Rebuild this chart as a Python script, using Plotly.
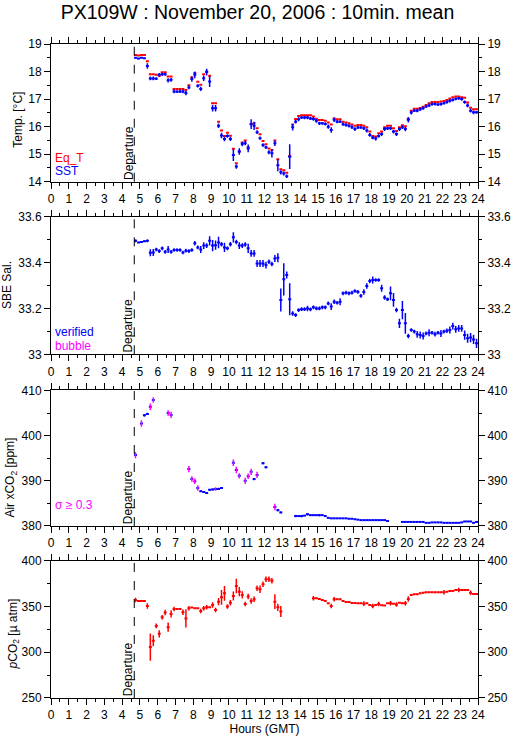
import numpy as np
import plotly.graph_objects as go

RED = "#ff0000"
BLUE = "#0000ff"
MAGENTA = "#ff00ff"
FONT = "Liberation Sans, Arial, Helvetica, sans-serif"

departure = 4.68            # hour of departure (GMT)
first_mean = 4.75           # centre of the first 10-min mean
hours = first_mean + np.arange(116) / 6.0

# ---- temperature [degC] ----
eq_t = [18.6, 18.58, 18.6, 18.6, 18.37, 17.9, 17.9, 17.88, 17.85, 17.97, 17.97, 17.82,
        17.82, 17.37, 17.37, 17.37, 17.37, 17.33, 17.5, 17.78, 17.95, 17.63, 17.52, 17.9,
        18.0, 17.85, 16.85, 16.85, 16.18, 15.86, 15.66, 15.78, 15.67, 15.2, 14.67, 15.1,
        15.42, 15.5, 15.25, 16.1, 16.12, 15.94, 15.72, 15.48, 15.36, 15.21, 15.15, 15.5,
        14.82, 14.45, 14.42, 14.33, 14.93, 16.08, 16.28, 16.39, 16.41, 16.41, 16.41, 16.41,
        16.37, 16.29, 16.24, 16.24, 16.21, 16.15, 16.08, 16.3, 16.27, 16.27, 16.18, 16.15,
        16.12, 16.08, 16.03, 16.06, 16.06, 16.03, 15.98, 15.82, 15.66, 15.64, 15.76, 15.82,
        15.98, 16.03, 16.03, 15.94, 15.84, 15.98, 16.05, 16.01, 16.28, 16.58, 16.65, 16.65,
        16.68, 16.72, 16.79, 16.85, 16.89, 16.89, 16.89, 16.91, 16.93, 16.97, 17.02, 17.07,
        17.09, 17.09, 17.07, 17.05, 16.88, 16.69, 16.63, 16.63]
sst = [18.5, 18.47, 18.5, 18.48, 18.2, 17.75, 17.75, 17.74, 17.88, 17.9, 17.9, 17.68,
       17.7, 17.28, 17.27, 17.28, 17.28, 17.22, 17.42, 17.73, 17.88, 17.48, 17.37, 17.76,
       17.98, 17.64, 16.67, 16.67, 16.03, 15.68, 15.55, 15.66, 15.55, 14.97, 14.55, 15.1,
       15.37, 15.4, 15.21, 16.09, 16.03, 15.8, 15.58, 15.33, 15.25, 15.07, 15.03, 15.4,
       14.6, 14.34, 14.3, 14.2, 14.91, 15.98, 16.18, 16.27, 16.33, 16.33, 16.33, 16.3,
       16.28, 16.21, 16.12, 16.12, 16.1, 16.0, 15.88, 16.25, 16.18, 16.18, 16.09, 16.06,
       16.03, 15.98, 15.91, 15.97, 15.97, 15.94, 15.86, 15.7, 15.6, 15.57, 15.66, 15.73,
       15.91, 15.94, 15.94, 15.82, 15.73, 15.91, 15.98, 15.91, 16.25, 16.51, 16.58, 16.58,
       16.63, 16.67, 16.73, 16.77, 16.82, 16.82, 16.8, 16.82, 16.85, 16.89, 16.94, 16.97,
       17.01, 17.03, 17.0, 16.89, 16.77, 16.58, 16.52, 16.52]
sst_sd = [0.03, 0.02, 0.03, 0.02, 0.1, 0.07, 0.07, 0.05, 0.07, 0.06, 0.05, 0.08,
          0.07, 0.07, 0.05, 0.06, 0.07, 0.08, 0.06, 0.1, 0.12, 0.06, 0.08, 0.1,
          0.12, 0.2, 0.12, 0.12, 0.08, 0.1, 0.08, 0.06, 0.07, 0.22, 0.08, 0.12,
          0.08, 0.08, 0.14, 0.18, 0.15, 0.07, 0.06, 0.07, 0.06, 0.07, 0.15, 0.1,
          0.22, 0.08, 0.07, 0.06, 0.45, 0.12, 0.07, 0.07, 0.05, 0.06, 0.06, 0.06,
          0.07, 0.07, 0.06, 0.05, 0.06, 0.08, 0.1, 0.08, 0.06, 0.05, 0.06, 0.06,
          0.06, 0.07, 0.07, 0.06, 0.05, 0.06, 0.07, 0.07, 0.06, 0.07, 0.06, 0.07,
          0.07, 0.06, 0.06, 0.07, 0.07, 0.07, 0.07, 0.08, 0.1, 0.07, 0.05, 0.06,
          0.06, 0.06, 0.05, 0.06, 0.06, 0.05, 0.05, 0.06, 0.05, 0.06, 0.06, 0.06,
          0.05, 0.05, 0.06, 0.06, 0.07, 0.07, 0.07, 0.05]

# ---- SBE salinity ----
sal = [33.495, 33.488, 33.49, 33.493, 33.495, 33.443, 33.444, 33.457, 33.45, 33.462, 33.447, 33.457,
       33.447, 33.455, 33.455, 33.455, 33.444, 33.452, 33.45, 33.455, 33.484, 33.466, 33.457, 33.474,
       33.474, 33.495, 33.474, 33.476, 33.488, 33.48, 33.466, 33.462, 33.48, 33.51, 33.49, 33.474,
       33.474, 33.479, 33.462, 33.44, 33.44, 33.396, 33.396, 33.396, 33.389, 33.404, 33.394, 33.418,
       33.421, 33.237, 33.327, 33.346, 33.24, 33.178, 33.171, 33.193, 33.197, 33.197, 33.2, 33.196,
       33.205, 33.2, 33.2, 33.205, 33.205, 33.222, 33.208, 33.229, 33.225, 33.229, 33.266, 33.269,
       33.266, 33.269, 33.276, 33.272, 33.255, 33.272, 33.298, 33.32, 33.324, 33.324, 33.324, 33.288,
       33.248, 33.24, 33.266, 33.237, 33.193, 33.135, 33.193, 33.135, 33.08, 33.106, 33.099, 33.087,
       33.084, 33.08, 33.091, 33.094, 33.094, 33.088, 33.094, 33.091, 33.099, 33.103, 33.106, 33.123,
       33.109, 33.113, 33.113, 33.084, 33.07, 33.073, 33.065, 33.048]
sal_sd = [0.006, 0.003, 0.003, 0.003, 0.006, 0.015, 0.015, 0.008, 0.008, 0.008, 0.008, 0.015,
          0.008, 0.008, 0.008, 0.008, 0.008, 0.008, 0.008, 0.008, 0.01, 0.008, 0.015, 0.015,
          0.01, 0.02, 0.025, 0.02, 0.025, 0.01, 0.02, 0.008, 0.01, 0.022, 0.01, 0.015,
          0.01, 0.01, 0.02, 0.015, 0.015, 0.015, 0.015, 0.015, 0.015, 0.01, 0.01, 0.015,
          0.02, 0.05, 0.07, 0.015, 0.07, 0.01, 0.008, 0.008, 0.008, 0.008, 0.012, 0.008,
          0.008, 0.008, 0.008, 0.008, 0.008, 0.008, 0.015, 0.01, 0.008, 0.015, 0.008, 0.008,
          0.008, 0.008, 0.008, 0.008, 0.008, 0.012, 0.012, 0.01, 0.015, 0.008, 0.008, 0.015,
          0.01, 0.008, 0.03, 0.03, 0.01, 0.02, 0.04, 0.045, 0.01, 0.008, 0.008, 0.015,
          0.015, 0.015, 0.008, 0.015, 0.008, 0.01, 0.008, 0.015, 0.008, 0.01, 0.015, 0.015,
          0.015, 0.015, 0.015, 0.02, 0.02, 0.02, 0.02, 0.02]

# ---- atmospheric xCO2 [ppm] ----
air_xco2 = [395.7, None, 402.7, 404.5, 404.8, 406.4, 407.9, None, None, None, None, 405.0,
            404.6, None, None, None, None, None, 392.6, 390.4, 389.9, 388.4, 387.7, 387.5,
            387.3, 388.0, 388.1, 388.2, 388.2, 388.4, None, None, None, 394.0, 392.4, 391.1,
            None, 390.0, 391.0, 392.0, 390.4, 391.3, None, 393.9, 393.0, None, None, 384.2,
            383.5, 383.0, None, None, None, None, 382.2, 382.2, 382.2, 382.3, 382.6, 382.4,
            382.4, 382.4, 382.4, 382.4, 382.2, 381.8, 381.7, 381.7, 381.7, 381.7, 381.7, 381.7,
            381.6, 381.6, 381.5, 381.4, 381.3, 381.3, 381.3, 381.3, 381.3, 381.3, 381.3, 381.3,
            381.3, 381.1, None, None, None, None, 380.9, 380.9, 380.9, 380.9, 380.9, 380.9,
            380.9, 380.9, 380.7, 380.7, 380.8, 380.8, 380.8, 380.8, 380.7, 380.7, 380.7, 380.7,
            380.7, 380.7, 380.8, 381.0, 381.0, 381.0, 380.7, 380.9]
air_sd = [0.7, None, 0.7, 0.25, 0.25, 0.7, 0.6, None, None, None, None, 0.6,
          0.7, None, None, None, None, None, 0.7, 0.6, 0.6, 0.6, 0.2, 0.2,
          0.2, 0.2, 0.2, 0.4, 0.25, 0.2, None, None, None, 0.7, 0.7, 0.6,
          None, 0.7, 0.6, 0.7, 0.25, 0.7, None, 0.25, 0.2, None, None, 0.7,
          0.25, 0.2, None, None, None, None, 0.25, 0.05, 0.25, 0.05, 0.25, 0.05,
          0.05, 0.05, 0.25, 0.05, 0.05, 0.05, 0.05, 0.05, 0.05, 0.05, 0.05, 0.05,
          0.05, 0.05, 0.05, 0.05, 0.05, 0.05, 0.05, 0.05, 0.05, 0.05, 0.05, 0.05,
          0.05, 0.05, None, None, None, None, 0.05, 0.05, 0.05, 0.05, 0.05, 0.05,
          0.05, 0.05, 0.05, 0.05, 0.05, 0.05, 0.05, 0.05, 0.05, 0.05, 0.05, 0.05,
          0.05, 0.05, 0.05, 0.05, 0.05, 0.05, 0.05, 0.05]

# ---- seawater pCO2 [uatm] ----
pco2 = [357.0, 356.0, 356.0, 356.0, 350.6, 305.6, 312.5, 328.8, 320.1, 338.3, 343.3, 327.4,
        341.9, 347.3, 347.3, 347.3, 343.7, 337.0, 348.0, 348.8, 348.0, 348.0, 345.0, 348.0,
        349.1, 349.1, 351.7, 346.2, 355.3, 360.0, 364.4, 349.9, 354.2, 361.5, 372.4, 366.2,
        362.6, 352.8, 360.8, 356.0, 357.9, 369.9, 368.8, 374.2, 379.7, 379.7, 378.2, 355.3,
        349.1, 344.4, None, None, None, None, None, None, None, None, None, None,
        359.0, 359.0, 358.2, 357.1, 356.0, 353.5, 350.6, 357.9, 357.9, 357.9, 356.0, 355.0,
        355.0, 353.9, 353.9, 353.5, 353.5, 353.1, 353.5, 351.7, 350.6, 351.7, 352.8, 351.3,
        351.0, 353.5, 353.5, 353.1, 352.1, 354.2, 353.5, 353.5, 358.2, 362.6, 363.3, 363.3,
        364.4, 365.1, 365.5, 365.5, 365.5, 365.5, 365.5, 365.5, 365.5, 366.2, 366.9, 366.9,
        368.0, 368.0, 368.0, 368.0, 368.0, 365.1, 363.7, 363.7]
pco2_sd = [2.5, 0.5, 0.5, 0.5, 3, 15, 6, 2.5, 4, 2.5, 3, 5,
           4, 2.5, 0.5, 0.5, 3, 10, 2.5, 0.5, 0.5, 0.5, 2.5, 2.5,
           2.5, 0.5, 3, 2.5, 4, 8, 8, 2.5, 3, 5, 8, 5,
           4, 2.5, 3, 3, 3, 3, 4, 3, 3, 3, 3, 8,
           4, 6, None, None, None, None, None, None, None, None, None, None,
           2.5, 0.5, 0.5, 0.5, 0.5, 0.5, 2.5, 2.5, 0.5, 0.5, 0.5, 0.5,
           0.5, 0.5, 0.5, 0.5, 0.5, 2.5, 0.5, 0.5, 2.5, 0.5, 2.5, 0.5,
           0.5, 0.5, 2.5, 0.5, 2.5, 0.5, 0.5, 2.5, 3, 0.5, 0.5, 0.5,
           0.5, 0.5, 0.5, 0.5, 0.5, 0.5, 0.5, 0.5, 2.5, 0.5, 0.5, 0.5,
           0.5, 2.5, 0.5, 0.5, 0.5, 2.5, 0.5, 0.5]


def sfx(n):
    return "" if n == 1 else str(n)


def means(y, sd, color, panel, horiz=True):
    """10-min means: horizontal bar = averaging window, vertical bar = std."""
    return go.Scatter(
        x=hours, y=y, xaxis="x" + sfx(panel), yaxis="y" + sfx(panel), mode="markers",
        marker=dict(size=0, color=color, opacity=0),
        error_x=dict(type="constant", value=1 / 12, width=0, thickness=2,
                     color=color, visible=horiz),
        error_y=dict(type="data", array=sd, width=0, thickness=1.5, color=color,
                     visible=sd is not None),
        hoverinfo="skip", showlegend=False)


air_flag = [v if (v is not None and s >= 0.3) else None for v, s in zip(air_xco2, air_sd)]
air_ok = [v if (v is not None and s < 0.3) else None for v, s in zip(air_xco2, air_sd)]

fig = go.Figure()
fig.add_trace(means(eq_t, None, RED, 1))
fig.add_trace(means(sst, sst_sd, BLUE, 1))
fig.add_trace(means(sal, sal_sd, BLUE, 2))
fig.add_trace(means(air_xco2, None, BLUE, 3))
fig.add_trace(means(air_ok, air_sd, BLUE, 3, horiz=False))
fig.add_trace(means(air_flag, air_sd, MAGENTA, 3, horiz=False))
fig.add_trace(means(pco2, pco2_sd, RED, 4))

domains = [(0.7894, 1.0), (0.5255, 0.7359), (0.2630, 0.4702), (0.0, 0.2099)]
yranges = [(14, 19), (33, 33.6), (380, 410), (250, 400)]
ydticks = [1, 0.2, 10, 50]
yminor = [0.5, 0.1, 5, 25]
ytitles = ["Temp. [°C]", "SBE Sal.", "Air xCO<sub>2</sub> [ppm]", "<i>p</i>CO<sub>2</sub> [µ atm]"]
ytitle_pos = [(-0.0773, 0.45), (-0.103, 0.504), (-0.0937, 0.357), (-0.0878, 0.467)]

axis_common = dict(showline=True, linecolor="black", linewidth=1, ticks="outside",
                   ticklen=6, tickwidth=1, tickcolor="black", showgrid=False,
                   zeroline=False, tickfont=dict(size=12, color="black"),
                   automargin=False)

layout = {}
annotations = []
shapes = []
for i in range(4):
    n = i + 1
    s = sfx(n)
    layout["xaxis" + s] = dict(axis_common, domain=[0, 1], anchor="y" + s,
                               range=[0, 24], tick0=0, dtick=1, mirror="ticks",
                               minor=dict(dtick=0.5, ticklen=3, ticks="outside",
                                          tickcolor="black", tickwidth=1))
    yminor_d = dict(dtick=yminor[i], ticklen=3, ticks="outside", tickcolor="black",
                    tickwidth=1)
    layout["yaxis" + s] = dict(axis_common, domain=list(domains[i]), anchor="x" + s,
                               range=list(yranges[i]), tick0=yranges[i][0],
                               dtick=ydticks[i], minor=yminor_d)
    layout[f"yaxis{n + 4}"] = dict(axis_common, overlaying="y" + s, side="right",
                                   anchor="x" + s, range=list(yranges[i]),
                                   tick0=yranges[i][0], dtick=ydticks[i], minor=yminor_d)
    fig.add_trace(go.Scatter(x=[None], y=[None], xaxis="x" + s, yaxis=f"y{n + 4}",
                             showlegend=False, hoverinfo="skip"))

    shapes.append(dict(type="line", xref="x" + s, yref=f"y{s} domain",
                       x0=departure, x1=departure, y0=0, y1=1,
                       line=dict(color="black", width=1, dash="dash")))
    annotations.append(dict(text="Departure", xref="x" + s, yref=f"y{s} domain",
                            x=departure, y=0, xanchor="right", yanchor="bottom",
                            xshift=3, textangle=-90, showarrow=False,
                            font=dict(size=12, color="black")))
    annotations.append(dict(text=ytitles[i], xref="paper", yref=f"y{s} domain",
                            x=ytitle_pos[i][0], y=ytitle_pos[i][1], xanchor="center",
                            yanchor="middle", textangle=-90, showarrow=False,
                            font=dict(size=12, color="black")))

# in-panel keys
keys = [("Eq_T", RED, 1, 0.173), ("SST", BLUE, 1, 0.078),
        ("verified", BLUE, 2, 0.162), ("bubble", MAGENTA, 2, 0.064),
        ("σ ≥ 0.3", MAGENTA, 3, 0.153)]
for txt, col, n, yy in keys:
    annotations.append(dict(text=txt, xref="paper", yref=f"y{sfx(n)} domain", x=0.005, y=yy,
                            xanchor="left", yanchor="middle", showarrow=False,
                            font=dict(size=12, color=col)))

layout["xaxis4"]["title"] = dict(text="Hours (GMT)", font=dict(size=12, color="black"),
                                 standoff=2)

fig.update_layout(
    **layout,
    width=515, height=739,
    margin=dict(l=51, r=37, t=44, b=41),
    paper_bgcolor="white", plot_bgcolor="white",
    font=dict(family=FONT, size=12, color="black"),
    title=dict(text="PX109W : November 20, 2006 : 10min. mean", x=0.5, xref="container",
               xanchor="center", y=1 - 12 / 739, yref="container", yanchor="middle",
               font=dict(size=19.5, color="black")),
    annotations=annotations, shapes=shapes, showlegend=False,
)

# the page's default body margin would push the 515x739 figure off the window
fig.write_html("out.html", config={"displayModeBar": False},
               post_script="document.body.style.margin = '0px';")
